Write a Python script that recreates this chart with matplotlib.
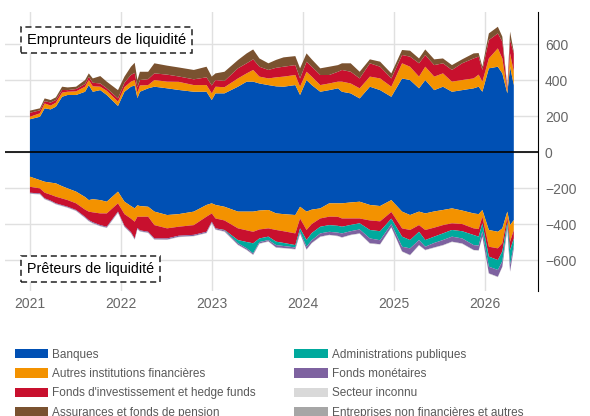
import numpy as np
import pandas as pd
import matplotlib
matplotlib.use('Agg')
import matplotlib.pyplot as plt
import matplotlib.dates as mdates
from matplotlib.patches import Patch

plt.rcParams['font.family'] = ['Liberation Sans', 'DejaVu Sans']

# dates de lecture
dates = pd.to_datetime([
    '2021-01-01', '2021-02-10', '2021-03-01', '2021-03-25', '2021-04-15', '2021-05-10',
    '2021-06-01', '2021-07-05', '2021-08-10', '2021-08-25', '2021-09-10', '2021-10-10',
    '2021-11-05', '2021-12-20', '2022-01-15', '2022-02-10', '2022-02-25', '2022-03-08',
    '2022-03-18', '2022-04-20', '2022-05-15', '2022-07-05', '2022-08-20', '2022-10-20',
    '2022-12-10', '2022-12-31', '2023-01-15', '2023-02-20', '2023-04-15', '2023-05-20',
    '2023-06-15', '2023-07-10', '2023-08-15', '2023-09-15', '2023-10-15', '2023-12-01',
    '2023-12-20', '2024-01-15', '2024-02-05', '2024-03-10', '2024-04-15', '2024-05-20',
    '2024-06-05', '2024-07-10', '2024-08-15', '2024-09-25', '2024-11-05', '2024-12-20',
    '2025-02-01', '2025-03-05', '2025-04-10', '2025-05-05', '2025-06-10', '2025-07-15',
    '2025-08-20', '2025-09-30', '2025-11-15', '2025-12-05', '2025-12-20', '2026-01-15',
    '2026-02-20', '2026-03-10', '2026-03-30', '2026-04-10', '2026-04-25'])

# emprunteurs : bornes cumulées (haut de chaque couche)
emp_banques = [182, 196, 243, 237, 252, 307, 317, 317, 335, 372, 335, 344, 317, 256, 335, 363,
               370, 300, 335, 354, 363, 354, 345, 335, 335, 289, 326, 326, 363, 391, 391, 381,
               372, 365, 363, 372, 317, 400, 372, 335, 344, 354, 335, 326, 298, 363, 344, 307,
               409, 400, 354, 400, 344, 363, 335, 344, 354, 363, 335, 465, 474, 437, 326, 474, 372]
emp_autres = [196, 215, 270, 258, 274, 330, 335, 337, 363, 400, 365, 363, 340, 280, 360, 391,
              400, 330, 370, 372, 400, 391, 390, 372, 372, 326, 363, 360, 409, 437, 456, 419,
              409, 415, 419, 428, 363, 446, 419, 372, 381, 391, 391, 381, 354, 419, 409, 363,
              493, 474, 419, 474, 419, 437, 391, 400, 409, 430, 391, 520, 576, 520, 340, 548, 446]
emp_fonds = [218, 232, 283, 275, 289, 345, 344, 350, 378, 418, 385, 381, 354, 298, 385, 428,
             440, 360, 400, 405, 437, 430, 420, 404, 415, 370, 400, 395, 465, 493, 515, 474,
             456, 468, 474, 483, 409, 502, 474, 428, 428, 446, 456, 446, 409, 493, 474, 409,
             539, 530, 493, 539, 483, 493, 456, 493, 520, 530, 456, 622, 659, 613, 350, 622, 548]
emp_assur = [230, 243, 298, 289, 304, 363, 359, 363, 400, 437, 409, 422, 391, 344, 419, 474,
             496, 400, 446, 446, 493, 480, 470, 456, 474, 419, 437, 446, 511, 548, 570, 520,
             493, 512, 526, 533, 465, 548, 515, 465, 474, 483, 493, 493, 446, 515, 502, 437,
             567, 563, 520, 570, 515, 520, 483, 515, 548, 550, 474, 659, 696, 641, 360, 669, 557]

# prêteurs : bornes cumulées (valeur absolue)
pre_banques = [137, 156, 165, 170, 174, 190, 202, 220, 250, 267, 262, 267, 276, 220, 276, 300,
               313, 296, 300, 304, 331, 350, 345, 331, 294, 285, 294, 304, 331, 331, 331, 325,
               322, 341, 345, 350, 304, 331, 320, 313, 285, 285, 285, 280, 276, 294, 300, 267,
               331, 350, 331, 341, 330, 322, 313, 325, 341, 345, 322, 433, 443, 424, 331, 406, 378]
pre_autres = [193, 202, 226, 237, 248, 258, 267, 285, 320, 331, 335, 341, 341, 285, 345, 370,
              387, 359, 360, 359, 406, 424, 415, 406, 359, 341, 369, 380, 424, 435, 443, 430,
              424, 433, 440, 452, 369, 433, 400, 369, 359, 360, 369, 369, 369, 380, 385, 333,
              424, 433, 406, 433, 420, 406, 396, 400, 424, 428, 359, 526, 535, 507, 361, 498, 433]
pre_fonds = [226, 230, 257, 270, 285, 295, 304, 322, 360, 378, 390, 406, 415, 331, 410, 445,
             480, 422, 435, 443, 480, 480, 465, 460, 443, 387, 424, 433, 489, 500, 507, 480,
             470, 498, 505, 517, 424, 489, 450, 415, 406, 410, 415, 405, 396, 433, 440, 370,
             470, 489, 443, 489, 470, 452, 433, 440, 461, 470, 396, 581, 600, 552, 390, 544, 480]
pre_admin = [226, 230, 257, 270, 285, 295, 304, 322, 360, 378, 390, 406, 415, 331, 410, 445,
             480, 422, 435, 443, 480, 480, 465, 460, 443, 387, 424, 435, 507, 535, 563, 500,
             489, 517, 522, 530, 443, 526, 490, 452, 443, 448, 452, 440, 430, 480, 490, 400,
             526, 535, 489, 526, 505, 489, 470, 480, 517, 520, 440, 637, 655, 607, 410, 626, 517]
pre_monet = [230, 234, 261, 274, 289, 299, 308, 326, 365, 383, 395, 411, 420, 336, 415, 450,
             485, 427, 440, 448, 485, 486, 471, 466, 449, 393, 430, 441, 515, 543, 570, 508,
             496, 530, 533, 539, 452, 541, 505, 470, 460, 466, 474, 460, 452, 507, 512, 418,
             552, 572, 517, 544, 530, 517, 498, 508, 544, 546, 470, 674, 693, 637, 424, 663, 535]
pre_inconnu = [1] * 65
pre_entreprises = [1] * 65

noms = ['Banques', 'Autres institutions financières', "Fonds d'investissement et hedge funds",
        'Assurances et fonds de pension', 'Administrations publiques', 'Fonds monétaires',
        'Secteur inconnu', 'Entreprises non financières et autres']
couleurs = ['#0050b4', '#f39200', '#c8102e', '#7a5230', '#00a99d', '#7e62a0', '#d9d9d9', '#a6a6a6']

emp = np.array([emp_banques, emp_autres, emp_fonds, emp_assur], dtype=float)
emp_couches = np.diff(np.vstack([np.zeros(len(dates)), emp]), axis=0)
pre = np.array([pre_banques, pre_autres, pre_fonds, pre_admin, pre_monet], dtype=float)
pre_couches = np.diff(np.vstack([np.zeros(len(dates)), pre]), axis=0)
pre_couches = np.vstack([pre_couches, pre_inconnu, pre_entreprises])

fig = plt.figure(figsize=(5.9, 4.16), dpi=100)
ax = fig.add_axes([5 / 590, 1 - 291 / 416, 533 / 590, 279 / 416])

ax.stackplot(dates, emp_couches, colors=couleurs[:4], linewidth=0)
ax.stackplot(dates, -pre_couches,
             colors=[couleurs[i] for i in [0, 1, 2, 4, 5, 6, 7]], linewidth=0)

ax.axhline(0, color='black', lw=1.2, zorder=5)
ax.set_ylim(-772, 778)
ax.set_xlim(pd.Timestamp('2020-09-23'), pd.Timestamp('2026-07-31'))
ax.set_yticks([-600, -400, -200, 0, 200, 400, 600])
ax.xaxis.set_major_locator(mdates.YearLocator())
ax.xaxis.set_major_formatter(mdates.DateFormatter('%Y'))
ax.grid(True, color='#e0e0e0', lw=1)
ax.set_axisbelow(True)

ax.yaxis.tick_right()
for s in ['top', 'left', 'bottom']:
    ax.spines[s].set_visible(False)
ax.spines['right'].set_color('black')
ax.tick_params(axis='both', length=0, colors='#666666', labelsize=10)
ax.tick_params(axis='y', pad=5)
ax.tick_params(axis='x', pad=4)

boite = dict(boxstyle='square,pad=0.4', fc='white', ec='#222222', ls=(0, (4, 2.5)), lw=1.1)
fig.text(27 / 590, 1 - 40 / 416, 'Emprunteurs de liquidité', fontsize=10.5, va='center',
         bbox=boite)
fig.text(27 / 590, 1 - 269 / 416, 'Prêteurs de liquidité', fontsize=10.3, va='center',
         bbox=boite)

poignees = [Patch(facecolor=c, edgecolor='none') for c in couleurs]
leg = fig.legend(poignees, noms, loc='upper left', bbox_to_anchor=(10 / 590, 1 - 344 / 416),
                 ncol=2, frameon=False, fontsize=8.5, handlelength=2.8, handleheight=0.85,
                 handletextpad=0.35, labelspacing=0.62, columnspacing=3.3, borderaxespad=0)
for t in leg.get_texts():
    t.set_color('#595959')

fig.savefig('out.png', dpi=100)
